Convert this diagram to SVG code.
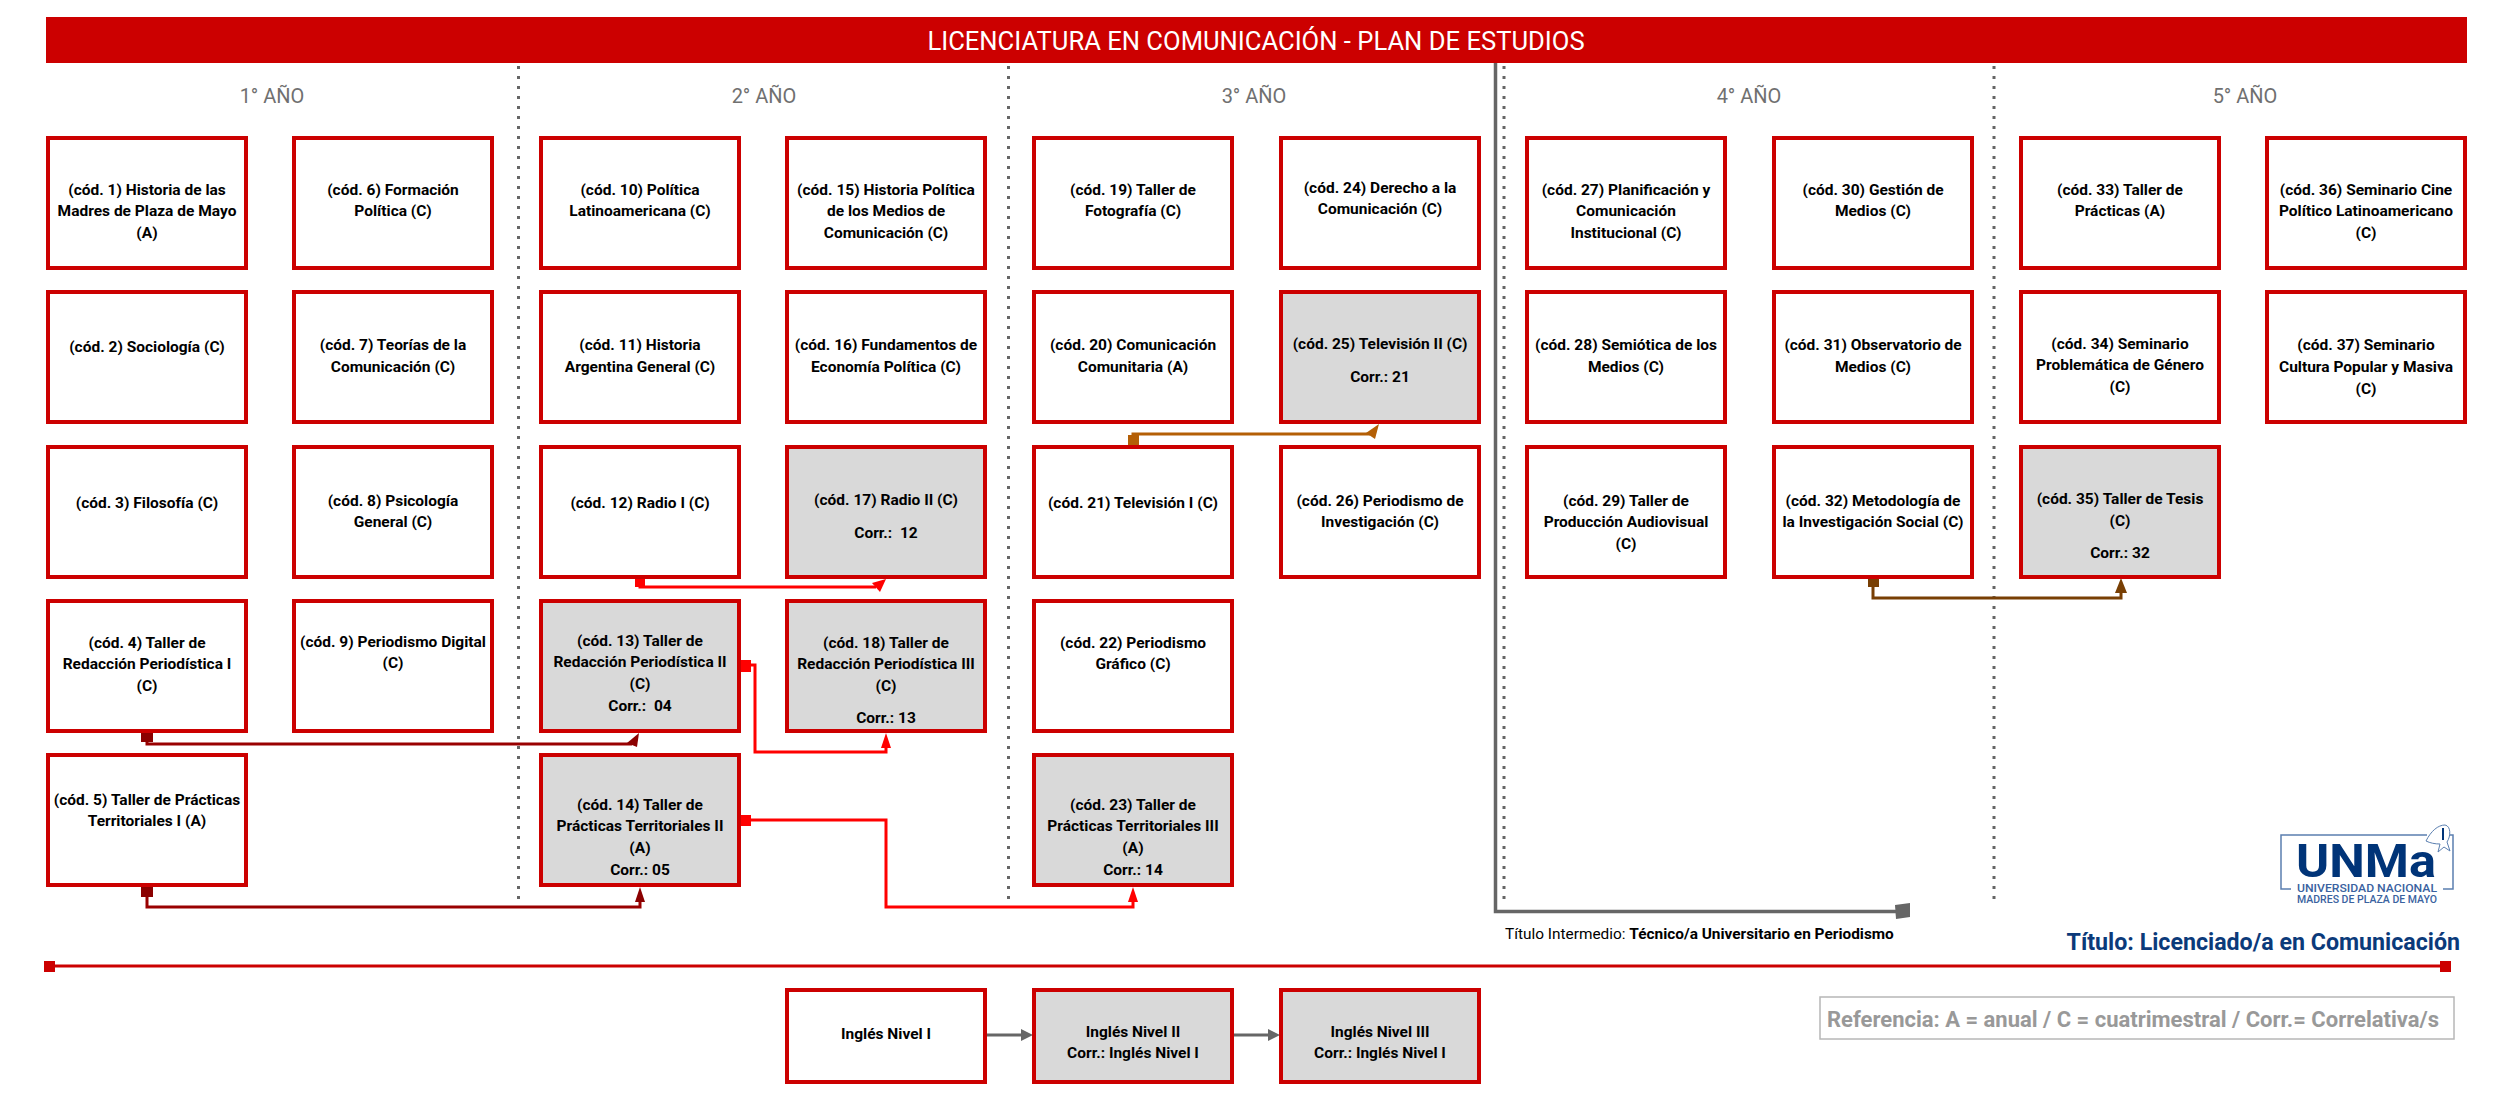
<svg xmlns="http://www.w3.org/2000/svg" width="2500" height="1093" viewBox="0 0 2500 1093">
<style>
text{font-family:Roboto,"Liberation Sans",sans-serif}
.box{fill:#fff;stroke:#cc0000;stroke-width:4}
.gr{fill:#d9d9d9}
.t{font-size:15.500px;font-weight:700;text-anchor:middle;fill:#000;transform:translateY(1px)}
.y{font-size:20px;fill:#707070;text-anchor:middle}
.dot{stroke:#666;stroke-width:3;stroke-dasharray:3 7;fill:none}
.w{fill:none;stroke-width:3}
</style>
<rect width="2500" height="1093" fill="#fff"/>
<g id="header"><rect x="46" y="17" width="2421" height="46" fill="#cc0000"/><text x="1256" y="50" font-size="25.600" fill="#fff" text-anchor="middle">LICENCIATURA EN COMUNICACIÓN - PLAN DE ESTUDIOS</text></g>
<g id="years">
<text class="y" x="272" y="103">1° AÑO</text><text class="y" x="764" y="103">2° AÑO</text><text class="y" x="1254" y="103">3° AÑO</text><text class="y" x="1749" y="103">4° AÑO</text><text class="y" x="2245" y="103">5° AÑO</text>
<path class="dot" d="M518.500 66V900M1008.500 66V900M1504 66V900M1994 66V900"/>
</g>
<g id="connectors">
<path d="M1495.500 63V911.500H1902" fill="none" stroke="#666" stroke-width="3.500"/><path d="M1895 905L1910 903V917L1896 919Z" fill="#666"/>
<path d="M49 966H2446" stroke="#cc0000" stroke-width="3"/><rect x="44" y="961" width="11" height="11" fill="#cc0000"/><rect x="2440" y="961" width="11" height="11" fill="#cc0000"/>
<path class="w" stroke="#990000" d="M147 735V744H632"/><rect x="141" y="732" width="12" height="10" fill="#8b0000"/><path d="M639 733L627 743L637 747Z" fill="#8b0000"/>
<path class="w" stroke="#990000" d="M147 890V907H640V900"/><rect x="141" y="886" width="12" height="11" fill="#8b0000"/><path d="M640 887L635 902H645Z" fill="#8b0000"/>
<path class="w" stroke="#ff0000" d="M640 580V587H876"/><rect x="635" y="578" width="10" height="9" fill="#ff0000"/><path d="M886 579L872 583L880 592Z" fill="#ff0000"/>
<path class="w" stroke="#ff0000" d="M745 665H755V752H886V745"/><rect x="741" y="660" width="10" height="12" fill="#ff0000"/><path d="M886 733L881 748H891Z" fill="#ff0000"/>
<path class="w" stroke="#ff0000" d="M745 820H886V907H1133V900"/><rect x="741" y="815" width="10" height="11" fill="#ff0000"/><path d="M1133 887L1128 902H1138Z" fill="#ff0000"/>
<path class="w" stroke="#b45f06" d="M1133 440V434H1370"/><rect x="1128" y="435" width="11" height="10" fill="#b45f06"/><path d="M1379 424L1366 433L1375 439Z" fill="#b45f06"/>
<path class="w" stroke="#783f04" d="M1873 583V598H2121V590"/><rect x="1868" y="578" width="11" height="9" fill="#783f04"/><path d="M2121 578L2115 593H2127Z" fill="#783f04"/>
<path d="M987 1035H1024M1234 1035H1271" stroke="#666" stroke-width="3"/><path d="M1033 1035L1021 1029V1041ZM1280 1035L1268 1029V1041Z" fill="#666"/>
</g>
<g id="c1"><rect class="box" x="48" y="138" width="198" height="130"/><text class="t"><tspan x="147" y="194">(cód. 1) Historia de las</tspan><tspan x="147" y="215">Madres de Plaza de Mayo</tspan><tspan x="147" y="237">(A)</tspan></text></g>
<g id="c2"><rect class="box" x="48" y="292" width="198" height="130"/><text class="t" x="147" y="351">(cód. 2) Sociología (C)</text></g>
<g id="c3"><rect class="box" x="48" y="447" width="198" height="130"/><text class="t" x="147" y="507">(cód. 3) Filosofía (C)</text></g>
<g id="c4"><rect class="box" x="48" y="601" width="198" height="130"/><text class="t"><tspan x="147" y="647">(cód. 4) Taller de</tspan><tspan x="147" y="668">Redacción Periodística I</tspan><tspan x="147" y="690">(C)</tspan></text></g>
<g id="c5"><rect class="box" x="48" y="755" width="198" height="130"/><text class="t"><tspan x="147" y="804">(cód. 5) Taller de Prácticas</tspan><tspan x="147" y="825">Territoriales I (A)</tspan></text></g>
<g id="c6"><rect class="box" x="294" y="138" width="198" height="130"/><text class="t"><tspan x="393" y="194">(cód. 6) Formación</tspan><tspan x="393" y="215">Política (C)</tspan></text></g>
<g id="c7"><rect class="box" x="294" y="292" width="198" height="130"/><text class="t"><tspan x="393" y="349">(cód. 7) Teorías de la</tspan><tspan x="393" y="371">Comunicación (C)</tspan></text></g>
<g id="c8"><rect class="box" x="294" y="447" width="198" height="130"/><text class="t"><tspan x="393" y="505">(cód. 8) Psicología</tspan><tspan x="393" y="526">General (C)</tspan></text></g>
<g id="c9"><rect class="box" x="294" y="601" width="198" height="130"/><text class="t"><tspan x="393" y="646">(cód. 9) Periodismo Digital</tspan><tspan x="393" y="667">(C)</tspan></text></g>
<g id="c10"><rect class="box" x="541" y="138" width="198" height="130"/><text class="t"><tspan x="640" y="194">(cód. 10) Política</tspan><tspan x="640" y="215">Latinoamericana (C)</tspan></text></g>
<g id="c11"><rect class="box" x="541" y="292" width="198" height="130"/><text class="t"><tspan x="640" y="349">(cód. 11) Historia</tspan><tspan x="640" y="371">Argentina General (C)</tspan></text></g>
<g id="c12"><rect class="box" x="541" y="447" width="198" height="130"/><text class="t" x="640" y="507">(cód. 12) Radio I (C)</text></g>
<g id="c13"><rect class="box gr" x="541" y="601" width="198" height="130"/><text class="t"><tspan x="640" y="645">(cód. 13) Taller de</tspan><tspan x="640" y="666">Redacción Periodística II</tspan><tspan x="640" y="688">(C)</tspan><tspan x="640" y="710" xml:space="preserve">Corr.:  04</tspan></text></g>
<g id="c14"><rect class="box gr" x="541" y="755" width="198" height="130"/><text class="t"><tspan x="640" y="809">(cód. 14) Taller de</tspan><tspan x="640" y="830">Prácticas Territoriales II</tspan><tspan x="640" y="852">(A)</tspan><tspan x="640" y="874">Corr.: 05</tspan></text></g>
<g id="c15"><rect class="box" x="787" y="138" width="198" height="130"/><text class="t"><tspan x="886" y="194">(cód. 15) Historia Política</tspan><tspan x="886" y="215">de los Medios de</tspan><tspan x="886" y="237">Comunicación (C)</tspan></text></g>
<g id="c16"><rect class="box" x="787" y="292" width="198" height="130"/><text class="t"><tspan x="886" y="349">(cód. 16) Fundamentos de</tspan><tspan x="886" y="371">Economía Política (C)</tspan></text></g>
<g id="c17"><rect class="box gr" x="787" y="447" width="198" height="130"/><text class="t"><tspan x="886" y="504">(cód. 17) Radio II (C)</tspan><tspan x="886" y="537" xml:space="preserve">Corr.:  12</tspan></text></g>
<g id="c18"><rect class="box gr" x="787" y="601" width="198" height="130"/><text class="t"><tspan x="886" y="647">(cód. 18) Taller de</tspan><tspan x="886" y="668">Redacción Periodística III</tspan><tspan x="886" y="690">(C)</tspan><tspan x="886" y="722">Corr.: 13</tspan></text></g>
<g id="c19"><rect class="box" x="1034" y="138" width="198" height="130"/><text class="t"><tspan x="1133" y="194">(cód. 19) Taller de</tspan><tspan x="1133" y="215">Fotografía (C)</tspan></text></g>
<g id="c20"><rect class="box" x="1034" y="292" width="198" height="130"/><text class="t"><tspan x="1133" y="349">(cód. 20) Comunicación</tspan><tspan x="1133" y="371">Comunitaria (A)</tspan></text></g>
<g id="c21"><rect class="box" x="1034" y="447" width="198" height="130"/><text class="t" x="1133" y="507">(cód. 21) Televisión I (C)</text></g>
<g id="c22"><rect class="box" x="1034" y="601" width="198" height="130"/><text class="t"><tspan x="1133" y="647">(cód. 22) Periodismo</tspan><tspan x="1133" y="668">Gráfico (C)</tspan></text></g>
<g id="c23"><rect class="box gr" x="1034" y="755" width="198" height="130"/><text class="t"><tspan x="1133" y="809">(cód. 23) Taller de</tspan><tspan x="1133" y="830">Prácticas Territoriales III</tspan><tspan x="1133" y="852">(A)</tspan><tspan x="1133" y="874">Corr.: 14</tspan></text></g>
<g id="c24"><rect class="box" x="1281" y="138" width="198" height="130"/><text class="t"><tspan x="1380" y="192">(cód. 24) Derecho a la</tspan><tspan x="1380" y="213">Comunicación (C)</tspan></text></g>
<g id="c25"><rect class="box gr" x="1281" y="292" width="198" height="130"/><text class="t"><tspan x="1380" y="348">(cód. 25) Televisión II (C)</tspan><tspan x="1380" y="381">Corr.: 21</tspan></text></g>
<g id="c26"><rect class="box" x="1281" y="447" width="198" height="130"/><text class="t"><tspan x="1380" y="505">(cód. 26) Periodismo de</tspan><tspan x="1380" y="526">Investigación (C)</tspan></text></g>
<g id="c27"><rect class="box" x="1527" y="138" width="198" height="130"/><text class="t"><tspan x="1626" y="194">(cód. 27) Planificación y</tspan><tspan x="1626" y="215">Comunicación</tspan><tspan x="1626" y="237">Institucional (C)</tspan></text></g>
<g id="c28"><rect class="box" x="1527" y="292" width="198" height="130"/><text class="t"><tspan x="1626" y="349">(cód. 28) Semiótica de los</tspan><tspan x="1626" y="371">Medios (C)</tspan></text></g>
<g id="c29"><rect class="box" x="1527" y="447" width="198" height="130"/><text class="t"><tspan x="1626" y="505">(cód. 29) Taller de</tspan><tspan x="1626" y="526">Producción Audiovisual</tspan><tspan x="1626" y="548">(C)</tspan></text></g>
<g id="c30"><rect class="box" x="1774" y="138" width="198" height="130"/><text class="t"><tspan x="1873" y="194">(cód. 30) Gestión de</tspan><tspan x="1873" y="215">Medios (C)</tspan></text></g>
<g id="c31"><rect class="box" x="1774" y="292" width="198" height="130"/><text class="t"><tspan x="1873" y="349">(cód. 31) Observatorio de</tspan><tspan x="1873" y="371">Medios (C)</tspan></text></g>
<g id="c32"><rect class="box" x="1774" y="447" width="198" height="130"/><text class="t"><tspan x="1873" y="505">(cód. 32) Metodología de</tspan><tspan x="1873" y="526">la Investigación Social (C)</tspan></text></g>
<g id="c33"><rect class="box" x="2021" y="138" width="198" height="130"/><text class="t"><tspan x="2120" y="194">(cód. 33) Taller de</tspan><tspan x="2120" y="215">Prácticas (A)</tspan></text></g>
<g id="c34"><rect class="box" x="2021" y="292" width="198" height="130"/><text class="t"><tspan x="2120" y="348">(cód. 34) Seminario</tspan><tspan x="2120" y="369">Problemática de Género</tspan><tspan x="2120" y="391">(C)</tspan></text></g>
<g id="c35"><rect class="box gr" x="2021" y="447" width="198" height="130"/><text class="t"><tspan x="2120" y="503">(cód. 35) Taller de Tesis</tspan><tspan x="2120" y="525">(C)</tspan><tspan x="2120" y="557">Corr.: 32</tspan></text></g>
<g id="c36"><rect class="box" x="2267" y="138" width="198" height="130"/><text class="t"><tspan x="2366" y="194">(cód. 36) Seminario Cine</tspan><tspan x="2366" y="215">Político Latinoamericano</tspan><tspan x="2366" y="237">(C)</tspan></text></g>
<g id="c37"><rect class="box" x="2267" y="292" width="198" height="130"/><text class="t"><tspan x="2366" y="349">(cód. 37) Seminario</tspan><tspan x="2366" y="371">Cultura Popular y Masiva</tspan><tspan x="2366" y="393">(C)</tspan></text></g>
<g id="ingles1"><rect class="box" x="787" y="990" width="198" height="92"/><text class="t" x="886" y="1038">Inglés Nivel I</text></g>
<g id="ingles2"><rect class="box gr" x="1034" y="990" width="198" height="92"/><text class="t"><tspan x="1133" y="1036">Inglés Nivel II</tspan><tspan x="1133" y="1057">Corr.: Inglés Nivel I</tspan></text></g>
<g id="ingles3"><rect class="box gr" x="1281" y="990" width="198" height="92"/><text class="t"><tspan x="1380" y="1036">Inglés Nivel III</tspan><tspan x="1380" y="1057">Corr.: Inglés Nivel I</tspan></text></g>
<g id="titulos">
<text x="1505" y="939" font-size="15.400" fill="#000">Título Intermedio: <tspan font-weight="700">Técnico/a Universitario en Periodismo</tspan></text>
<text x="2460" y="950" font-size="23.200" font-weight="700" fill="#0b3a7a" text-anchor="end">Título: Licenciado/a en Comunicación</text>
</g>
<g id="referencia"><rect x="1820" y="997" width="634" height="42" fill="#fff" stroke="#b7b7b7" stroke-width="1.500"/><text x="1827" y="1027" font-size="22" font-weight="700" fill="#999">Referencia: A = anual / C = cuatrimestral / Corr.= Correlativa/s</text></g>
<g id="logo">
<path d="M2427 835H2281V889H2291M2443 889H2453V835H2448" fill="none" stroke="#5b7fb0" stroke-width="1.500"/>
<text x="2296" y="877" font-size="46" font-weight="700" fill="#003478" textLength="140" lengthAdjust="spacingAndGlyphs">UNMa</text>
<text x="2297" y="892" font-size="11.500" font-weight="500" fill="#3a62a0" textLength="140" lengthAdjust="spacingAndGlyphs">UNIVERSIDAD NACIONAL</text>
<text x="2297" y="903" font-size="11.500" font-weight="500" fill="#3a62a0" textLength="140" lengthAdjust="spacingAndGlyphs">MADRES DE PLAZA DE MAYO</text>
<path d="M2426 841C2431 831 2438 825 2445 825C2451 826 2451 836 2447 842L2450 851L2444 847L2438 852L2440 844C2435 844 2430 843 2426 841Z" fill="#fff" stroke="#5b7fb0" stroke-width="1"/><path d="M2442 828H2444V840H2442Z" fill="#003478"/>
</g>
</svg>
